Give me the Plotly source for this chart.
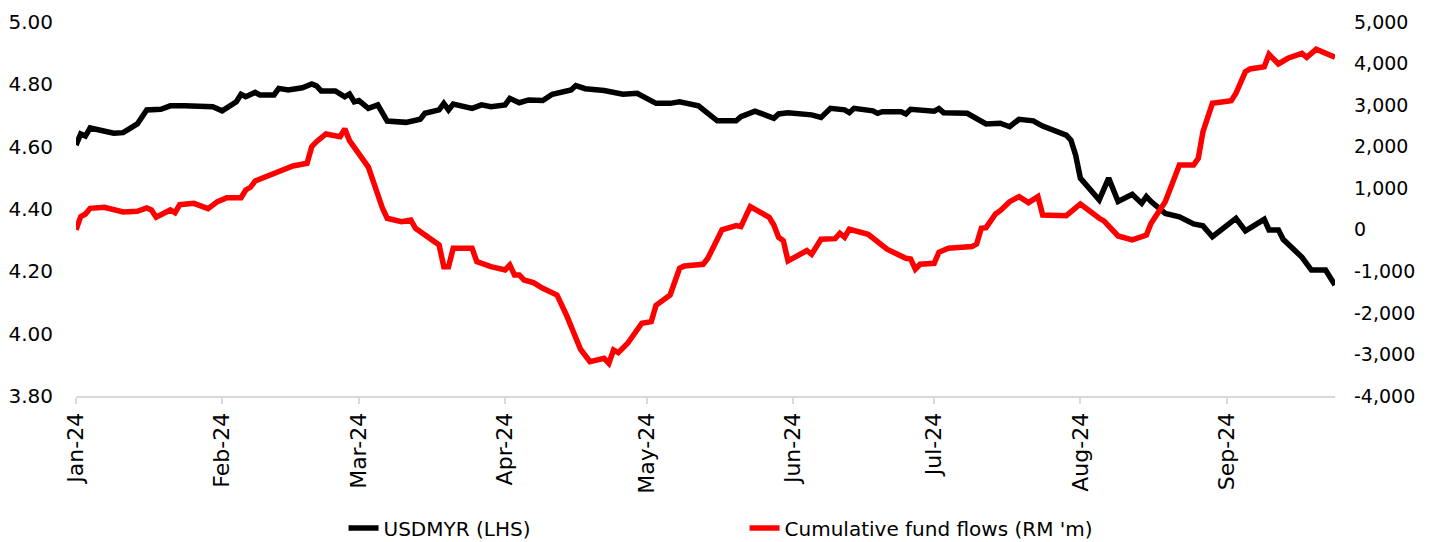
import plotly.graph_objects as go

# ---- USDMYR (left axis) ----
usd_dates = [
    "2024-01-01", "2024-01-02", "2024-01-03", "2024-01-04", "2024-01-09", "2024-01-11",
    "2024-01-14", "2024-01-16", "2024-01-19", "2024-01-21", "2024-01-24", "2024-01-30",
    "2024-02-01", "2024-02-04", "2024-02-05", "2024-02-06", "2024-02-08", "2024-02-09",
    "2024-02-12", "2024-02-13", "2024-02-15", "2024-02-18", "2024-02-20", "2024-02-21",
    "2024-02-22", "2024-02-25", "2024-02-27", "2024-02-28", "2024-02-29", "2024-03-01",
    "2024-03-03", "2024-03-05", "2024-03-07", "2024-03-11", "2024-03-14", "2024-03-15",
    "2024-03-18", "2024-03-19", "2024-03-20", "2024-03-21", "2024-03-25", "2024-03-27",
    "2024-03-29", "2024-04-01", "2024-04-02", "2024-04-04", "2024-04-06", "2024-04-09",
    "2024-04-11", "2024-04-15", "2024-04-16", "2024-04-18", "2024-04-22", "2024-04-24",
    "2024-04-26", "2024-04-29", "2024-05-01", "2024-05-03", "2024-05-06", "2024-05-08",
    "2024-05-12", "2024-05-14", "2024-05-16", "2024-05-20", "2024-05-21", "2024-05-22",
    "2024-05-24", "2024-05-28", "2024-05-29", "2024-05-31", "2024-06-05", "2024-06-07",
    "2024-06-09", "2024-06-12", "2024-06-13", "2024-06-14", "2024-06-18", "2024-06-19",
    "2024-06-20", "2024-06-24", "2024-06-25", "2024-06-26", "2024-07-01", "2024-07-02",
    "2024-07-03", "2024-07-08", "2024-07-10", "2024-07-12", "2024-07-15", "2024-07-17",
    "2024-07-19", "2024-07-22", "2024-07-24", "2024-07-29", "2024-07-30", "2024-07-31",
    "2024-08-01", "2024-08-05", "2024-08-07", "2024-08-09", "2024-08-12", "2024-08-14",
    "2024-08-15", "2024-08-16", "2024-08-19", "2024-08-22", "2024-08-25", "2024-08-27",
    "2024-08-29", "2024-09-03", "2024-09-05", "2024-09-09", "2024-09-10", "2024-09-12",
    "2024-09-13", "2024-09-17", "2024-09-19", "2024-09-22", "2024-09-24",
]
usd_values = [
    4.605, 4.641, 4.634, 4.660, 4.643, 4.645,
    4.673, 4.718, 4.720, 4.731, 4.731, 4.728,
    4.715, 4.744, 4.768, 4.760, 4.774, 4.766,
    4.766, 4.787, 4.782, 4.789, 4.801, 4.795,
    4.779, 4.779, 4.760, 4.769, 4.744, 4.748,
    4.723, 4.734, 4.682, 4.678, 4.688, 4.707,
    4.718, 4.739, 4.718, 4.737, 4.723, 4.734,
    4.728, 4.734, 4.755, 4.741, 4.750, 4.748,
    4.768, 4.782, 4.796, 4.786, 4.780, 4.776,
    4.768, 4.771, 4.755, 4.739, 4.739, 4.744,
    4.731, 4.709, 4.683, 4.683, 4.696, 4.702,
    4.714, 4.691, 4.705, 4.709, 4.702, 4.694,
    4.723, 4.718, 4.709, 4.723, 4.715, 4.707,
    4.712, 4.712, 4.705, 4.720, 4.714, 4.722,
    4.709, 4.707, 4.691, 4.673, 4.675, 4.664,
    4.688, 4.683, 4.666, 4.637, 4.621, 4.573,
    4.499, 4.429, 4.499, 4.424, 4.447, 4.418,
    4.440, 4.424, 4.386, 4.375, 4.352, 4.346,
    4.311, 4.370, 4.330, 4.367, 4.333, 4.333,
    4.303, 4.245, 4.204, 4.204, 4.156,
]

# ---- Cumulative fund flows (right axis, RM 'm) ----
flow_dates = [
    "2024-01-01", "2024-01-02", "2024-01-03", "2024-01-04", "2024-01-07", "2024-01-11",
    "2024-01-14", "2024-01-16", "2024-01-17", "2024-01-18", "2024-01-21", "2024-01-22",
    "2024-01-23", "2024-01-26", "2024-01-29", "2024-01-31", "2024-02-02", "2024-02-05",
    "2024-02-06", "2024-02-07", "2024-02-08", "2024-02-12", "2024-02-15", "2024-02-16",
    "2024-02-19", "2024-02-20", "2024-02-21", "2024-02-23", "2024-02-26", "2024-02-27",
    "2024-02-28", "2024-03-01", "2024-03-03", "2024-03-06", "2024-03-07", "2024-03-10",
    "2024-03-12", "2024-03-13", "2024-03-15", "2024-03-18", "2024-03-19", "2024-03-20",
    "2024-03-21", "2024-03-25", "2024-03-26", "2024-03-29", "2024-04-01", "2024-04-02",
    "2024-04-03", "2024-04-04", "2024-04-05", "2024-04-07", "2024-04-09", "2024-04-12",
    "2024-04-14", "2024-04-16", "2024-04-17", "2024-04-19", "2024-04-22", "2024-04-23",
    "2024-04-24", "2024-04-25", "2024-04-27", "2024-04-30", "2024-05-02", "2024-05-03",
    "2024-05-06", "2024-05-08", "2024-05-09", "2024-05-13", "2024-05-14", "2024-05-17",
    "2024-05-20", "2024-05-21", "2024-05-23", "2024-05-27", "2024-05-28", "2024-05-29",
    "2024-05-30", "2024-05-31", "2024-06-04", "2024-06-05", "2024-06-07", "2024-06-10",
    "2024-06-11", "2024-06-12", "2024-06-13", "2024-06-17", "2024-06-19", "2024-06-21",
    "2024-06-25", "2024-06-26", "2024-06-27", "2024-06-28", "2024-07-01", "2024-07-02",
    "2024-07-04", "2024-07-09", "2024-07-10", "2024-07-11", "2024-07-12", "2024-07-14",
    "2024-07-15", "2024-07-17", "2024-07-19", "2024-07-21", "2024-07-23", "2024-07-24",
    "2024-07-29", "2024-07-31", "2024-08-01", "2024-08-05", "2024-08-06", "2024-08-09",
    "2024-08-12", "2024-08-15", "2024-08-16", "2024-08-19", "2024-08-22", "2024-08-25",
    "2024-08-26", "2024-08-27", "2024-08-29", "2024-09-02", "2024-09-03", "2024-09-05",
    "2024-09-06", "2024-09-09", "2024-09-10", "2024-09-12", "2024-09-14", "2024-09-17",
    "2024-09-18", "2024-09-20", "2024-09-24",
]
flow_values = [
    0, 315, 380, 517, 541, 429,
    445, 525, 477, 301, 477, 412,
    605, 637, 508, 677, 773, 773,
    958, 1023, 1175, 1343, 1463, 1535,
    1600, 2000, 2120, 2305, 2240, 2430,
    2145, 1800, 1510, 517, 277, 195,
    236, 36, -125, -365, -887, -887,
    -445, -445, -767, -887, -967, -847,
    -1087, -1087, -1208, -1272, -1407, -1568,
    -2050, -2610, -2875, -3173, -3092, -3213,
    -2892, -2956, -2730, -2249, -2210, -1820,
    -1568, -926, -871, -830, -686, 0,
    99, 75, 557, 301, 116, -180,
    -262, -750, -502, -590, -229, -214,
    -84, -180, 12, -108, -286, -469,
    -686, -702, -950, -830, -806, -541,
    -445, -405, -341, 36, 52, 380,
    460, 677, 797, 653, 797, 357,
    340, 517, 621, 277, 212, -149,
    -245, -125, 156, 677, 1559, 1559,
    1720, 2361, 3044, 3107, 3285, 3805,
    3870, 3925, 4223, 3990, 4127, 4247,
    4151, 4343, 4151,
]

left_ticks = [3.80, 4.00, 4.20, 4.40, 4.60, 4.80, 5.00]
right_ticks = [-4000, -3000, -2000, -1000, 0, 1000, 2000, 3000, 4000, 5000]
right_labels = [f"{v:,}" for v in right_ticks]
x_range = ["2024-01-01", "2024-09-24"]

FONT = "Verdana, DejaVu Sans, sans-serif"

fig = go.Figure()
fig.add_trace(go.Scatter(
    x=usd_dates, y=usd_values, name="USDMYR (LHS)", mode="lines",
    line=dict(color="#000000", width=5.5), yaxis="y",
))
fig.add_trace(go.Scatter(
    x=flow_dates, y=flow_values, name="Cumulative fund flows (RM 'm)", mode="lines",
    line=dict(color="#ff0000", width=5.5), yaxis="y2",
))

# the page adds an 8px body margin, so the figure is sized to fit inside the window
fig.update_layout(
    width=1433, height=534,
    margin=dict(l=68, r=106, t=14, b=146, autoexpand=False),
    paper_bgcolor="#ffffff", plot_bgcolor="#ffffff",
    font=dict(family=FONT, size=20, color="#000000"),
    showlegend=True,
    legend=dict(
        orientation="h", x=0.2125, y=-0.353, xanchor="left", yanchor="middle",
        font=dict(family=FONT, size=20, color="#000000"),
        entrywidth=356, entrywidthmode="pixels",
        bgcolor="rgba(0,0,0,0)",
    ),
    xaxis=dict(
        type="date", range=x_range, dtick="M1", tick0="2024-01-01",
        tickformat="%b-%y", tickangle=-90, automargin=False,
        showline=True, linecolor="#d9d9d9", linewidth=2,
        ticks="outside", ticklen=6, tickcolor="#d9d9d9", tickwidth=2,
        showgrid=False, zeroline=False,
        tickfont=dict(family=FONT, size=22, color="#000000"),
    ),
    yaxis=dict(
        range=[3.8, 5.0], tickvals=left_ticks, tickformat=".2f",
        showline=False, showgrid=False, zeroline=False, ticks="",
        ticklabelstandoff=22, automargin=False,
        tickfont=dict(family=FONT, size=20, color="#000000"),
    ),
    yaxis2=dict(
        range=[-4000, 5000], tickvals=right_ticks, ticktext=right_labels,
        overlaying="y", side="right", automargin=False,
        showline=False, showgrid=False, zeroline=False, ticks="",
        ticklabelstandoff=18,
        tickfont=dict(family=FONT, size=19, color="#000000"),
    ),
)

fig.write_html("out.html")
